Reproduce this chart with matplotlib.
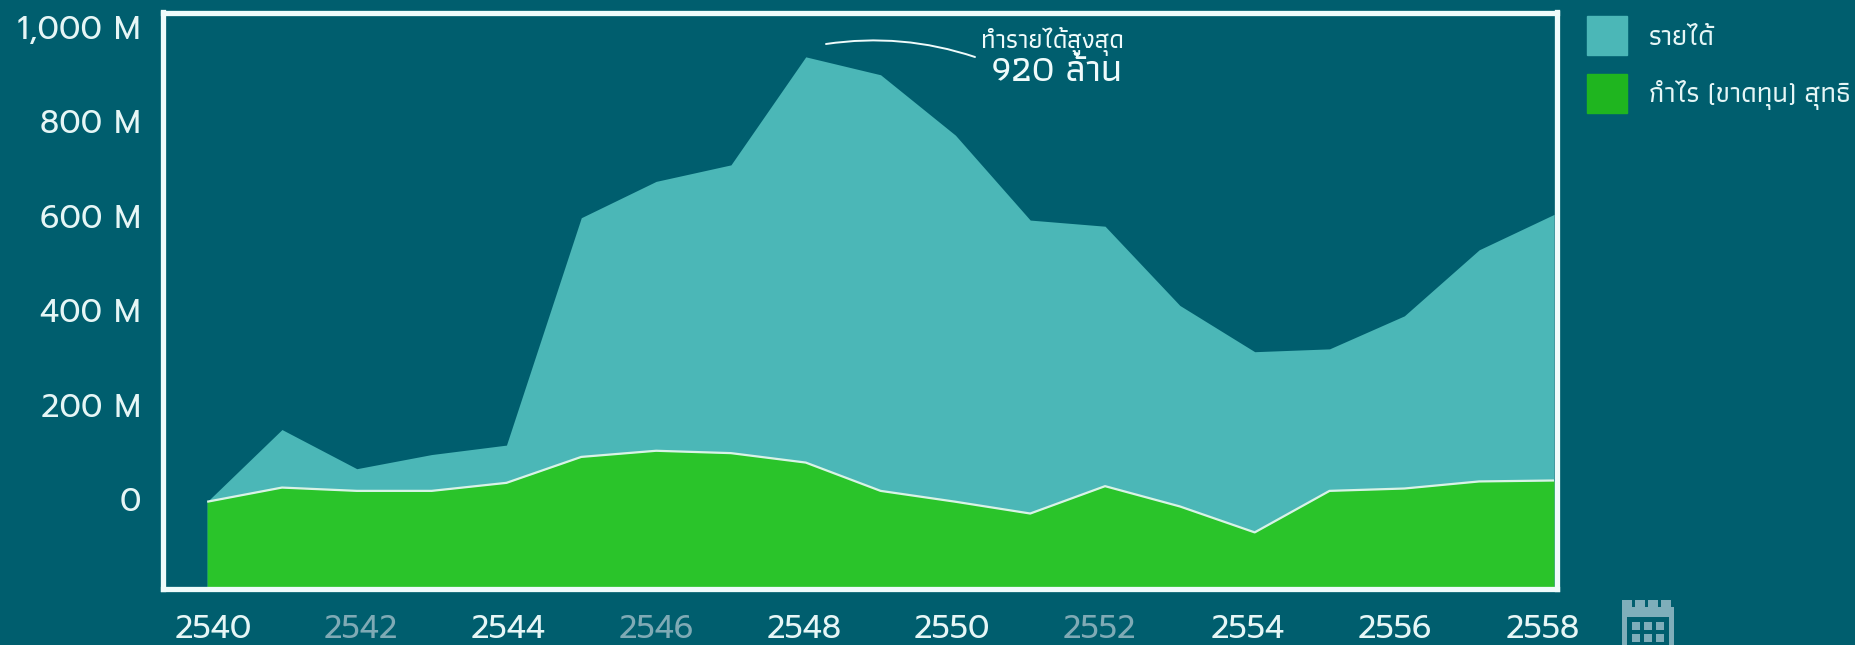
import matplotlib
matplotlib.use("Agg")
import matplotlib.pyplot as plt
import numpy as np
from matplotlib.patches import Patch, Rectangle

years = list(range(2540, 2559))
revenue = [-6, 147, 64, 94, 114, 596, 673, 708, 937, 899, 771, 591, 578, 410, 312, 318, 388, 528, 603]
profit = [-6, 24, 17, 17, 34, 89, 102, 97, 77, 17, -6, -31, 27, -16, -71, 17, 22, 37, 39]

year_labels = ["2540", "2542", "2544", "2546", "2548", "2550", "2552", "2554", "2556", "2558"]
dim_labels = ["2542", "2546", "2552"]
y_ticks = [0, 200, 400, 600, 800, 1000]
y_labels = ["0", "200 M", "400 M", "600 M", "800 M", "1,000 M"]
legend_labels = ["รายได้", "กำไร (ขาดทุน) สุทธิ"]
note_top = "ทำรายได้สูงสุด"
note_bottom = "920 ล้าน"

BG = "#005E6E"
TEAL = "#4BB7B7"
GREEN = "#2AC42A"
LEGEND_GREEN = "#1FB51F"
FRAME = "#EFFBFB"
TICK_TEXT = "#E6F6F6"
DIM = "#7FAAB5"
ICON = "#7FAEBA"
W, H = 1856, 645
THAI = ["Athiti", "Prompt"]
NUM = ["Prompt", "Athiti"]


def px(x, y):
    return x / W, 1 - y / H


fig = plt.figure(figsize=(W / 100, H / 100), dpi=100, facecolor=BG)
ax = fig.add_axes([163 / W, 1 - 589 / H, (1557 - 163) / W, (589 - 12.5) / H], facecolor=BG)

bottom = -191
ax.fill_between(years, revenue, bottom, color=TEAL, lw=0)
ax.fill_between(years, profit, bottom, color=GREEN, lw=0)
ax.plot(years, profit, color="#D9F3E6", lw=1.6, solid_capstyle="butt")

ax.set_xlim(2539.41, 2558.04)
ax.set_ylim(bottom, 1031)
ax.set_yticks(y_ticks)
ax.set_yticklabels(y_labels, family=NUM, fontsize=23, weight="normal", color=TICK_TEXT)
# labels do not sit exactly on the years in the original
ax.set_xticks(np.linspace(2540.08, 2557.85, len(year_labels)))
ax.set_xticklabels(year_labels, family=NUM, fontsize=23, weight="normal", color=TICK_TEXT)
for lab in ax.get_xticklabels():
    if lab.get_text() in dim_labels:
        lab.set_color(DIM)
ax.tick_params(axis="y", length=0, pad=16)
ax.tick_params(axis="x", length=0, pad=18)
for s in ax.spines.values():
    s.set_color(FRAME)
    s.set_linewidth(3.8)

# legend
handles = [Patch(color=TEAL), Patch(color=LEGEND_GREEN)]
fig.legend(handles, legend_labels, loc="upper left", bbox_to_anchor=px(1587, 16), frameon=False,
           prop={"family": THAI, "size": 19.8, "weight": "medium"}, labelcolor=TICK_TEXT,
           handlelength=1.45, handleheight=1.83, labelspacing=0.66, handletextpad=0.8,
           borderpad=0, borderaxespad=0)

# peak note
ax.annotate("", xy=px(975, 57), xytext=px(826, 44), xycoords="figure fraction", textcoords="figure fraction",
            arrowprops=dict(arrowstyle="-", color=FRAME, lw=1.4, connectionstyle="arc3,rad=-0.12",
                            shrinkA=0, shrinkB=0))
fig.text(*px(1052, 42), note_top, family=THAI, fontsize=18.5, weight="medium", color=FRAME, ha="center", va="center")
fig.text(*px(1057, 72), note_bottom, family=THAI, fontsize=27, weight="medium", color=FRAME, ha="center", va="center")

# calendar icon
icon = [(1622, 607, 52, 38, ICON), (1627, 617, 42, 28, BG)]
for x0, y0, w, h, c in icon:
    fig.add_artist(Rectangle(px(x0, y0 + h), w / W, h / H, transform=fig.transFigure, color=c, lw=0))
for x0 in (1622, 1635, 1648, 1661):
    fig.add_artist(Rectangle(px(x0, 608), 10 / W, 8 / H, transform=fig.transFigure, color=ICON, lw=0))
for x0 in (1632, 1644, 1656):
    for y0 in (622, 634):
        fig.add_artist(Rectangle(px(x0, y0 + 8), 8 / W, 8 / H, transform=fig.transFigure, color=ICON, lw=0))

fig.savefig("out.png", facecolor=BG)
